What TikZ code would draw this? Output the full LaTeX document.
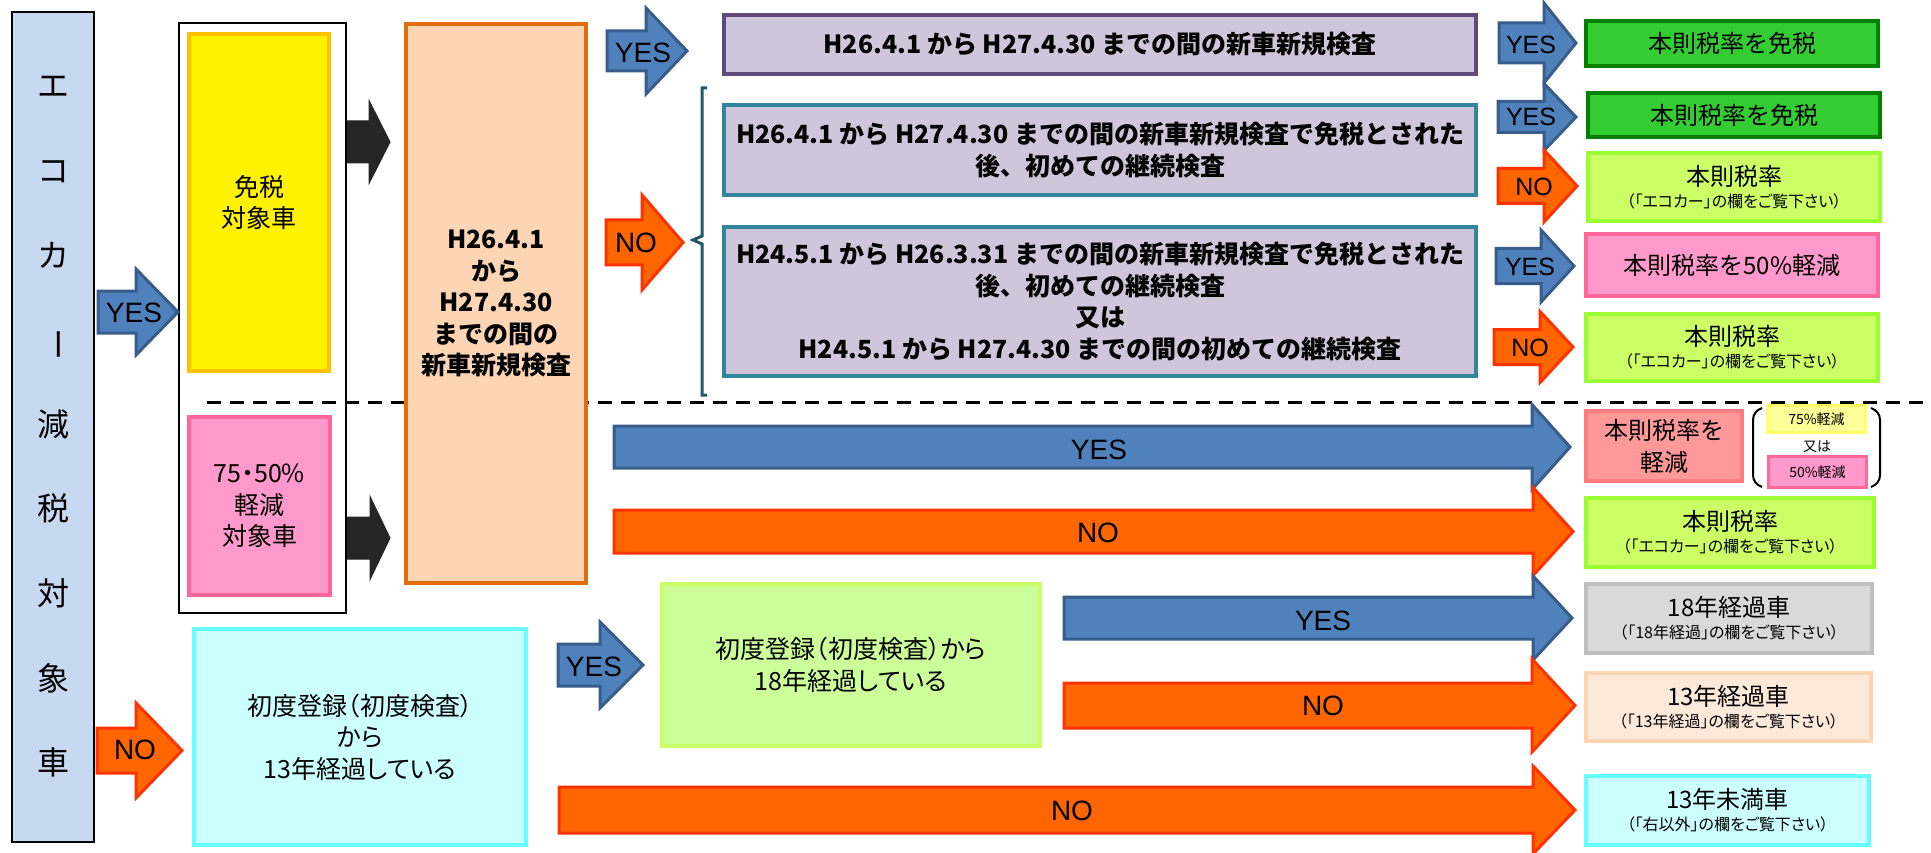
\documentclass[tikz,border=0pt]{standalone}
\usepackage{graphicx}
\usepackage{fontspec}
\setmainfont{Noto Sans CJK JP}
\newfontfamily\propfont[RawFeature=+palt]{Noto Sans CJK JP}
\newfontfamily\yesnofont{Liberation Sans}

\definecolor{ecoblue}{HTML}{C6D9F1}
\definecolor{yesfill}{HTML}{4F81BD}
\definecolor{yesline}{HTML}{385D8A}
\definecolor{nofill}{HTML}{FF6600}
\definecolor{noline}{HTML}{FF3300}
\definecolor{darkarrow}{HTML}{262626}
\definecolor{menzeiline}{HTML}{FFC000}
\definecolor{pinkfill}{HTML}{FF99CC}
\definecolor{pinkline}{HTML}{FF6699}
\definecolor{periodfill}{HTML}{FCD5B5}
\definecolor{periodline}{HTML}{E46C0A}
\definecolor{lavender}{HTML}{CFC6DC}
\definecolor{purpleline}{HTML}{604A7B}
\definecolor{tealline}{HTML}{31859C}
\definecolor{bracketcol}{HTML}{215968}
\definecolor{greenfill}{HTML}{33CC33}
\definecolor{greenline}{HTML}{008000}
\definecolor{limefill}{HTML}{CCFF66}
\definecolor{limeline}{HTML}{99FF33}
\definecolor{mintfill}{HTML}{CCFF99}
\definecolor{salmonfill}{HTML}{FF9999}
\definecolor{salmonline}{HTML}{FF7C80}
\definecolor{grayfill}{HTML}{D9D9D9}
\definecolor{grayline}{HTML}{BFBFBF}
\definecolor{peachfill}{HTML}{FDE9D9}
\definecolor{peachline}{HTML}{FBD4B4}
\definecolor{cyanfill}{HTML}{CCFFFF}
\definecolor{cyanline}{HTML}{66FFFF}
\definecolor{paleyellow}{HTML}{FFFF99}
\definecolor{paleyellowline}{HTML}{FFFF66}

\tikzset{
  box/.style={draw, line width=4pt, align=center, inner sep=0pt},
  smallbox/.style={draw, line width=3pt, align=center, inner sep=0pt, font=\fontsize{14}{14}\selectfont},
  yesarrow/.style={fill=yesfill, draw=yesline, line width=3pt},
  noarrow/.style={fill=nofill, draw=noline, line width=3pt},
  blkarrow/.style={fill=darkarrow, draw=darkarrow, line width=1pt},
  yesno/.style={font=\yesnofont\fontsize{28}{28}\selectfont, inner sep=0pt},
  yesnosmall/.style={font=\yesnofont\fontsize{25}{25}\selectfont, inner sep=0pt},
  jtext/.style={font=\fontsize{25}{31.5}\selectfont},
  ptext/.style={font=\propfont\fontsize{25}{31.5}\selectfont},
  jbold/.style={font=\fontsize{25}{31.5}\selectfont\bfseries},
  restext/.style={font=\fontsize{24}{22}\selectfont},
}

% fat arrow: style, x start, x head base, x tip, y centre, half body, half head
\newcommand{\fatarrow}[7]{%
  \draw[#1] (#2,#5-#6) -- (#3,#5-#6) -- (#3,#5-#7) -- (#4,#5)
    -- (#3,#5+#7) -- (#3,#5+#6) -- (#2,#5+#6) -- cycle;}
\newcommand{\subnote}[1]{{\propfont\fontsize{16}{16}\selectfont #1}}

\begin{document}
\begin{tikzpicture}[x=1pt,y=-1pt]
\useasboundingbox (0,0) rectangle (1931,853);

% separator
\draw[line width=3pt, dash pattern=on 14pt off 9pt] (207,402) -- (1925,402);

% left column
\node[box, line width=2pt, fill=ecoblue, minimum width=82pt, minimum height=830pt,
  font=\fontsize{32}{84.6}\selectfont] (eco) at (53,427)
  {エ\\コ\\カ\\\rotatebox[origin=c]{-90}{ー}\\減\\税\\対\\象\\車};
\node[draw, line width=2.5pt, minimum width=167pt, minimum height=590pt, inner sep=0pt] (group) at (262.5,318) {};
\node[box, draw=menzeiline, fill=yellow, minimum width=139.5pt, minimum height=337pt, jtext] (menzei) at (259,202.5) {免税\\対象車};
\node[box, draw=pinkline, fill=pinkfill, minimum width=141pt, minimum height=178pt, ptext] (keigen) at (259.5,506) {75・50\%\\軽減\\対象車};
\node[box, draw=periodline, fill=periodfill, minimum width=180pt, minimum height=559pt, jbold] (period) at (496,303.5)
  {H26.4.1\\から\\H27.4.30\\までの間の\\新車新規検査};
\node[box, draw=cyanline, fill=cyanfill, minimum width=332pt, minimum height=216pt, ptext] (over13) at (360,737)
  {初度登録（初度検査）\\から\\13年経過している};
\node[box, draw=limefill, fill=mintfill, minimum width=378pt, minimum height=162pt, ptext] (over18) at (851,665)
  {初度登録（初度検査）から\\18年経過している};

% middle column
\node[box, draw=purpleline, fill=lavender, minimum width=752pt, minimum height=59pt, jbold] (newcar) at (1100,44.5)
  {H26.4.1 から H27.4.30 までの間の新車新規検査};
\node[box, draw=tealline, fill=lavender, minimum width=752pt, minimum height=90pt, jbold] (firstA) at (1100,150)
  {H26.4.1 から H27.4.30 までの間の新車新規検査で免税とされた\\後、初めての継続検査};
\node[box, draw=tealline, fill=lavender, minimum width=752pt, minimum height=149pt, jbold] (firstB) at (1100,301.5)
  {H24.5.1 から H26.3.31 までの間の新車新規検査で免税とされた\\後、初めての継続検査\\又は\\H24.5.1 から H27.4.30 までの間の初めての継続検査};
\draw[bracketcol, line width=3pt] (707,88) -- (702,88) -- (702,236) -- (693,240) -- (702,244) -- (702,395) -- (707,395);

% right column
\node[box, draw=greenline, fill=greenfill, minimum width=292pt, minimum height=45pt, restext] (exemptA) at (1732,43.5) {本則税率を免税};
\node[box, draw=greenline, fill=greenfill, minimum width=292pt, minimum height=44pt, restext] (exemptB) at (1734,115) {本則税率を免税};
\node[box, draw=limeline, fill=limefill, minimum width=292pt, minimum height=68pt, restext] (rateA) at (1734,187)
  {本則税率\\\subnote{（「エコカー」の欄をご覧下さい）}};
\node[box, draw=pinkline, fill=pinkfill, minimum width=292pt, minimum height=62pt, restext] (half) at (1732,265) {本則税率を50\%軽減};
\node[box, draw=limeline, fill=limefill, minimum width=292pt, minimum height=67pt, restext] (rateB) at (1732,347.5)
  {本則税率\\\subnote{（「エコカー」の欄をご覧下さい）}};
\node[box, draw=salmonline, fill=salmonfill, minimum width=156pt, minimum height=70pt, font=\fontsize{24}{32}\selectfont] (reduce) at (1664,446)
  {本則税率を\\軽減};
\node[smallbox, draw=paleyellowline, fill=paleyellow, minimum width=98pt, minimum height=27pt] (cut75) at (1816.5,419) {75\%軽減};
\node[font=\fontsize{14}{14}\selectfont, inner sep=0pt] (either) at (1817,447) {又は};
\node[smallbox, draw=pinkline, fill=pinkfill, minimum width=98pt, minimum height=31pt] (cut50) at (1817.5,472) {50\%軽減};
\draw[line width=2pt] (1762,408) to[out=200,in=90] (1753,420) -- (1753,475) to[out=-90,in=160] (1762,487);
\draw[line width=2pt] (1871,408) to[out=-20,in=90] (1880,420) -- (1880,475) to[out=-90,in=20] (1871,487);
\node[box, draw=limeline, fill=limefill, minimum width=288pt, minimum height=69pt, restext] (rateC) at (1730,532.5)
  {本則税率\\\subnote{（「エコカー」の欄をご覧下さい）}};
\node[box, draw=grayline, fill=grayfill, minimum width=286pt, minimum height=69pt, restext] (car18) at (1729,618.5)
  {18年経過車\\\subnote{（「18年経過」の欄をご覧下さい）}};
\node[box, draw=peachline, fill=peachfill, minimum width=285pt, minimum height=68pt, restext] (car13) at (1728.5,707)
  {13年経過車\\\subnote{（「13年経過」の欄をご覧下さい）}};
\node[box, draw=cyanline, fill=cyanfill, minimum width=283pt, minimum height=69pt, restext] (under13) at (1727.5,810.5)
  {13年未満車\\\subnote{（「右以外」の欄をご覧下さい）}};

% arrows
\fatarrow{yesarrow}{98}{136}{178}{312}{21}{43}
\fatarrow{noarrow}{97}{136}{182}{750.5}{22.5}{47.5}
\fatarrow{blkarrow}{347.5}{369}{390}{142}{21}{41.5}
\fatarrow{blkarrow}{347.5}{370}{390}{538}{21}{41.5}
\fatarrow{yesarrow}{607}{646}{687}{51}{20}{43}
\fatarrow{noarrow}{606}{642}{683}{242.5}{22.5}{47.5}
\fatarrow{yesarrow}{558}{600}{643}{665}{21}{43}
\fatarrow{yesarrow}{1499}{1544}{1576}{43}{20}{40}
\fatarrow{yesarrow}{1498}{1544}{1576}{117}{15.5}{33.5}
\fatarrow{noarrow}{1498}{1544}{1577}{186}{17.5}{36}
\fatarrow{yesarrow}{1496}{1541}{1574}{266}{17.5}{36}
\fatarrow{noarrow}{1494}{1540}{1573}{347}{17.5}{35.5}
\fatarrow{yesarrow}{614}{1532}{1570}{447}{21}{42.5}
\fatarrow{noarrow}{614}{1533}{1573}{531.5}{21.5}{44}
\fatarrow{yesarrow}{1064}{1533}{1572}{618}{21}{42}
\fatarrow{noarrow}{1064}{1532}{1575}{705.5}{22.5}{46.5}
\fatarrow{noarrow}{559}{1533}{1575}{810}{23}{44}

\node[yesno] (yesEco) at (134,313) {YES};
\node[yesno] (noEco) at (135,750) {NO};
\node[yesno] (yesNew) at (643,53) {YES};
\node[yesno] (noNew) at (636,243) {NO};
\node[yesno] (yesOld) at (594,667) {YES};
\node[yesnosmall] (yesA) at (1531,45) {YES};
\node[yesnosmall] (yesB) at (1531,117) {YES};
\node[yesnosmall] (noA) at (1534,187) {NO};
\node[yesnosmall] (yesC) at (1530,267) {YES};
\node[yesnosmall] (noB) at (1530,348) {NO};
\node[yesno] (yesCut) at (1099,450) {YES};
\node[yesno] (noCut) at (1098,533) {NO};
\node[yesno] (yes18) at (1323,621) {YES};
\node[yesno] (no18) at (1323,706) {NO};
\node[yesno] (no13) at (1072,811) {NO};
\end{tikzpicture}
\end{document}
